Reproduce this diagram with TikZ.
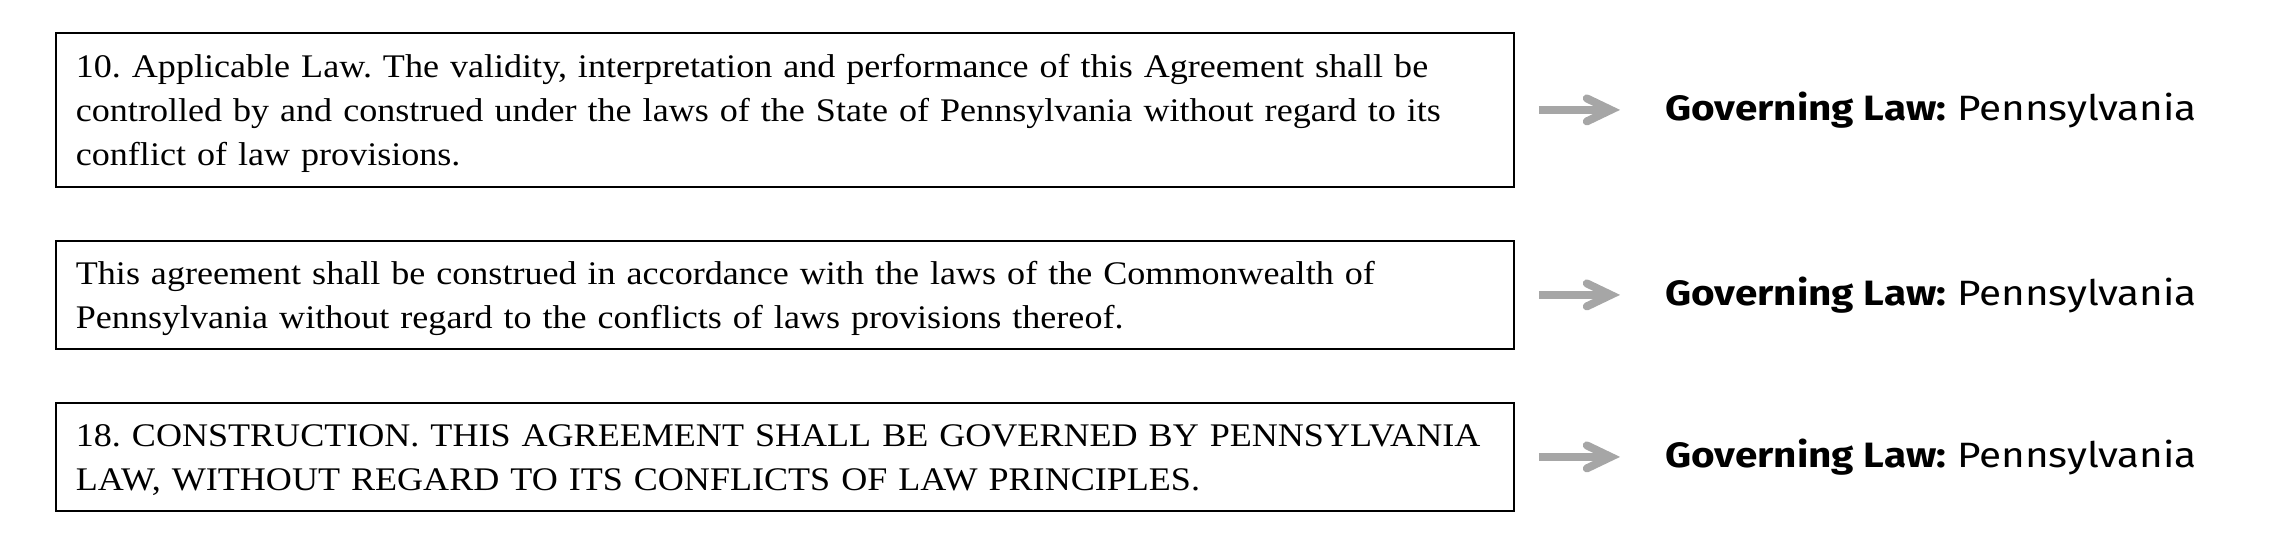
\documentclass[tikz,border=0pt]{standalone}
\usepackage{fontspec}
\setmainfont{Liberation Serif}[FakeStretch=1.093]
\newfontfamily\labfont{Fira Sans}[FakeStretch=1.15]
\usetikzlibrary{calc}
\definecolor{arrowgray}{HTML}{A6A6A6}
\newcommand\mytopstrut{\rule{0pt}{18.4pt}}
\begin{document}
\frenchspacing
\begin{tikzpicture}[x=0.5pt,y=-0.5pt,
  clause/.style={draw=black, line width=0.9pt, anchor=north west, text width=709pt,
    inner xsep=10pt, inner ysep=0pt, align=left, font=\fontsize{16.5}{22}\selectfont\frenchspacing},
  lab/.style={anchor=base west, inner sep=0pt, font=\labfont\fontsize{17.6}{20}\selectfont},
  shaft/.style={draw=arrowgray, line width=4pt, line cap=butt},
  headstroke/.style={draw=arrowgray, line width=4pt, line cap=round, line join=miter}]
\useasboundingbox (0,0) rectangle (2274,552);

\node[clause, minimum height=77pt] (b1) at (55,32)
  {\mytopstrut 10. Applicable Law. The validity, interpretation and performance of this Agreement shall be\\
   controlled by and construed under the laws of the State of Pennsylvania without regard to its\\
   conflict of law provisions.\strut};
\node[clause, minimum height=54pt] (b2) at (55,240)
  {\mytopstrut This agreement shall be construed in accordance with the laws of the Commonwealth of\\
   Pennsylvania without regard to the conflicts of laws provisions thereof.\strut};
\node[clause, minimum height=54pt] (b3) at (55,402)
  {\mytopstrut 18. CONSTRUCTION. THIS AGREEMENT SHALL BE GOVERNED BY PENNSYLVANIA\\
   LAW, WITHOUT REGARD TO ITS CONFLICTS OF LAW PRINCIPLES.\strut};

\foreach \i in {1,2,3}{
  \node[lab] (l\i) at ([xshift=75pt,yshift=-5.5pt]b\i.east) {\textbf{Governing Law:} Pennsylvania};
  \draw[shaft] ([xshift=12pt]b\i.east) -- ([xshift=-27pt]b\i.east -| l\i.west);
  \draw[headstroke] ([xshift=-39pt,yshift=5.75pt]b\i.east -| l\i.west)
     -- ([xshift=-27pt]b\i.east -| l\i.west)
     -- ([xshift=-39pt,yshift=-5.75pt]b\i.east -| l\i.west);
}
\end{tikzpicture}
\end{document}
